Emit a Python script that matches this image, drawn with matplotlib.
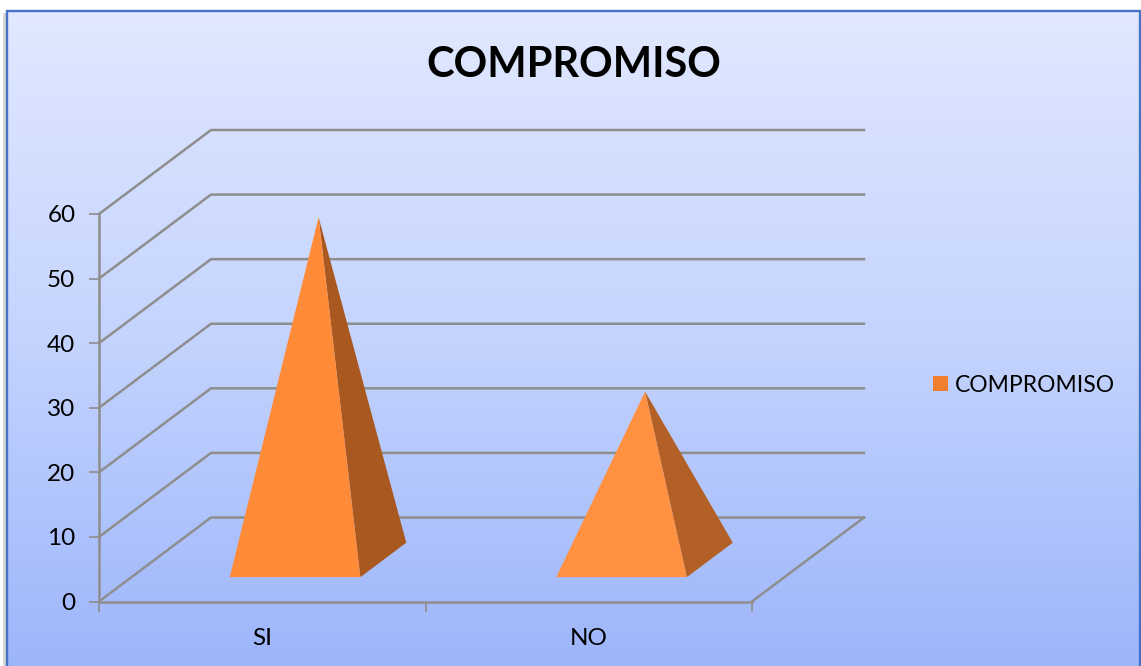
import numpy as np
import matplotlib
matplotlib.use("Agg")
import matplotlib.pyplot as plt
from matplotlib.patches import Polygon, Rectangle
from matplotlib.colors import LinearSegmentedColormap

categories = ["SI", "NO"]
values = [53, 26]
series_name = "COMPROMISO"
y_ticks = [0, 10, 20, 30, 40, 50, 60]

W, H = 1141, 666
FONT = ["Lato", "DejaVu Sans"]
FS = 17.5
fig = plt.figure(figsize=(W / 100, H / 100), dpi=100, facecolor="white")

bg = fig.add_axes([0, 0, 1, 1], zorder=0)
bg.set_xlim(0, W); bg.set_ylim(H, 0); bg.axis("off")
cmap = LinearSegmentedColormap.from_list("g", ["#E1E8FF", "#C4D4FE", "#9DB5FB"])
grad = np.linspace(0, 1, 256).reshape(-1, 1)
bg.add_patch(Rectangle((3, 13), 4, 653, fc="#D8D8D8", ec="none"))
bg.imshow(grad, cmap=cmap, extent=[7, 1140, H + 1, 11], aspect="auto", zorder=1)
bg.set_xlim(0, W); bg.set_ylim(H, 0)
bg.plot([7, 7, 1140, 1140], [H + 1, 11, 11, H + 1], color="#4472C4", lw=1.7, zorder=2,
        solid_joinstyle="miter")

# plot axes: front face of the 3-D box
L, R, T, B = 99, 752, 214, 601.5
ax = fig.add_axes([L / W, 1 - B / H, (R - L) / W, (B - T) / H], zorder=1)
ax.patch.set_alpha(0)
ax.set_xlim(0, len(categories))
ax.set_ylim(0, 60)
for s in ["top", "right"]:
    ax.spines[s].set_visible(False)
GREY = "#8E8E8E"
LW = 1.8
for s in ["left", "bottom"]:
    ax.spines[s].set_color(GREY)
    ax.spines[s].set_linewidth(LW)

px_x = len(categories) / (R - L)
px_y = 60 / (B - T)
DX, DY = 112 * px_x, 84 * px_y   # full depth of the box in data units

ax.set_yticks(y_ticks)
ax.set_xticks(range(len(categories) + 1))
ax.set_xticklabels([])
ax.set_xticks([i + 0.5 for i in range(len(categories))], categories, minor=True)
ax.tick_params(axis="y", length=7, width=1.2, color=GREY, labelsize=FS, pad=10)
ax.tick_params(axis="x", which="major", length=7, width=1.2, color=GREY)
ax.tick_params(axis="x", which="minor", length=0, labelsize=FS, pad=19)
for t in ax.get_yticklabels() + ax.get_xticklabels(minor=True):
    t.set_fontfamily(FONT)

n = len(categories)
for v in y_ticks:
    ax.plot([0, DX, n + DX], [v, v + DY, v + DY], color=GREY, lw=LW, clip_on=False,
            zorder=1, solid_joinstyle="miter")
ax.plot([n, n + DX], [0, DY], color=GREY, lw=LW, clip_on=False, zorder=1)

FRONTS = ["#FF8A38", "#FF9140"]
SIDES = ["#A9581F", "#B26025"]
half, d0, d1 = 0.2, 0.29, 0.70
for i, v in enumerate(values):
    c = i + 0.5 + 0.001
    cx = c + 0.5 * DX
    base_y = 0.5 * DY
    fl = (c - half + d0 * DX, d0 * DY)
    fr = (c + half + d0 * DX, d0 * DY)
    br = (c + half + d1 * DX, d1 * DY)
    apex = (cx, base_y + v)
    ax.add_patch(Polygon([fr, br, apex], fc=SIDES[i], ec="none", clip_on=False, zorder=3))
    ax.add_patch(Polygon([fl, fr, apex], fc=FRONTS[i], ec="none", clip_on=False, zorder=4))

fig.text(574 / W, 1 - 65 / H, series_name, ha="center", va="center", fontsize=30,
         fontweight="bold", family=FONT, color="black")
fig.patches.append(Rectangle((933 / W, 1 - 391 / H), 15 / W, 15 / H, transform=fig.transFigure,
                             fc="#F0802F", ec="none", figure=fig))
fig.text(955 / W, 1 - 385 / H, series_name, ha="left", va="center", fontsize=16.5,
         family=FONT, color="black")

fig.savefig("out.png", dpi=100, facecolor="white")
